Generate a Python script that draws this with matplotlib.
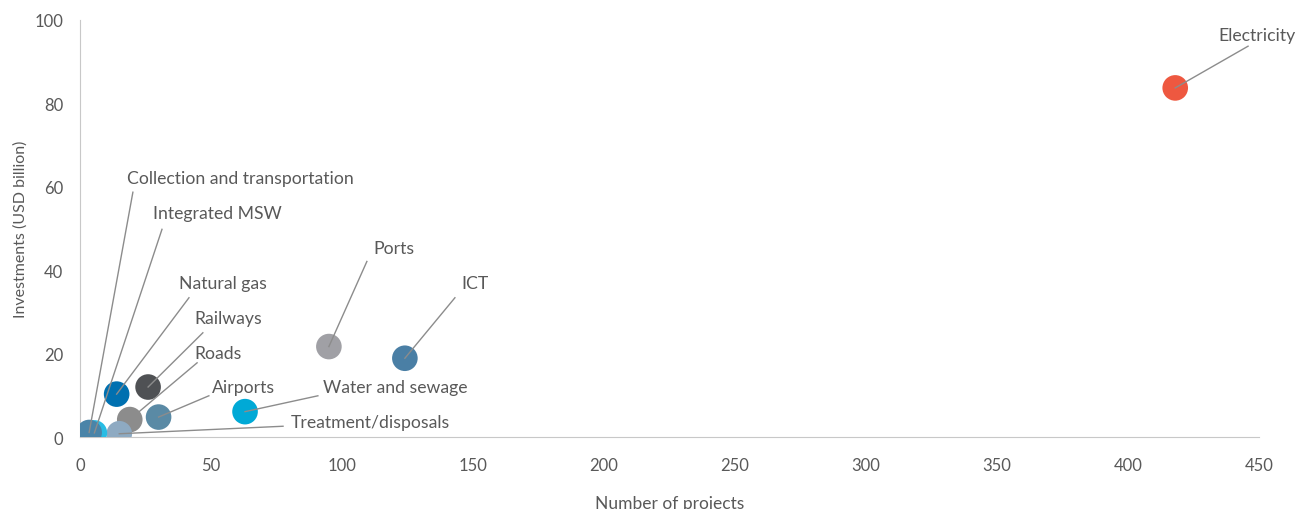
import matplotlib.pyplot as plt

#---DATA
sectors = ['Electricity', 'ICT', 'Ports', 'Water and sewage', 'Airports', 'Roads',
           'Railways', 'Natural gas', 'Treatment/disposals', 'Integrated MSW',
           'Collection and transportation']
projects = [418, 124, 95, 63, 30, 19, 26, 14, 15, 5.5, 3.5]
investments = [83.7, 18.9, 21.7, 6.1, 4.8, 4.2, 12.0, 10.3, 0.8, 1.0, 1.1]
colors = ['#ee5840', '#4a7fa5', '#a0a0a5', '#00a9d6', '#5a8aa5', '#8c8c8c',
          '#4f5154', '#0070b0', '#8eaac2', '#28bce4', '#4a84a8']

# label text position (left, centre) and end of leader line, in data units
label_pos = [(434.4, 96.4), (145.4, 37.0), (111.8, 45.4), (92.7, 12.0), (50.4, 12.0),
             (43.5, 20.2), (43.5, 28.6), (37.8, 37.0), (80.5, 3.6), (27.9, 53.6),
             (17.9, 62.0)]
line_end = [(445.8, 93.7), (143.1, 33.4), (109.5, 42.1), (90.8, 9.9), (49.2, 9.9),
            (44.7, 17.8), (46.9, 25.0), (41.6, 33.4), (77.5, 2.6), (31.3, 49.8),
            (20.2, 58.7)]

plt.rcParams['font.family'] = ['Lato', 'DejaVu Sans']
txt = '#595959'

#---PLOT
fig = plt.figure(figsize=(12.96, 5.10), dpi=100)
ax = fig.add_axes([0.0617, 0.141, 0.9098, 0.818])

ax.scatter(projects, investments, s=340, c=colors, zorder=3, linewidths=0)

for i, name in enumerate(sectors):
    ex, ey = line_end[i]
    ax.plot([projects[i], ex], [investments[i], ey], color='#8c8c8c', lw=1, zorder=4)
    tx, ty = label_pos[i]
    ax.text(tx, ty, name, fontsize=12.7, color=txt, va='center', ha='left',
            clip_on=False, zorder=5)

ax.set_xlim(0, 450)
ax.set_ylim(0, 100)
ax.set_xticks(range(0, 451, 50))
ax.set_yticks(range(0, 101, 20))
ax.tick_params(length=0, labelsize=12, colors=txt, pad=14)
ax.tick_params(axis='y', pad=12)
for s in ['top', 'right']:
    ax.spines[s].set_visible(False)
for s in ['left', 'bottom']:
    ax.spines[s].set_color('#c8c8c8')
ax.set_xlabel('Number of projects', fontsize=12.5, color=txt, labelpad=16)
ax.set_ylabel('Investments (USD billion)', fontsize=11.5, color=txt, labelpad=5)

fig.savefig('out.png', dpi=100)
